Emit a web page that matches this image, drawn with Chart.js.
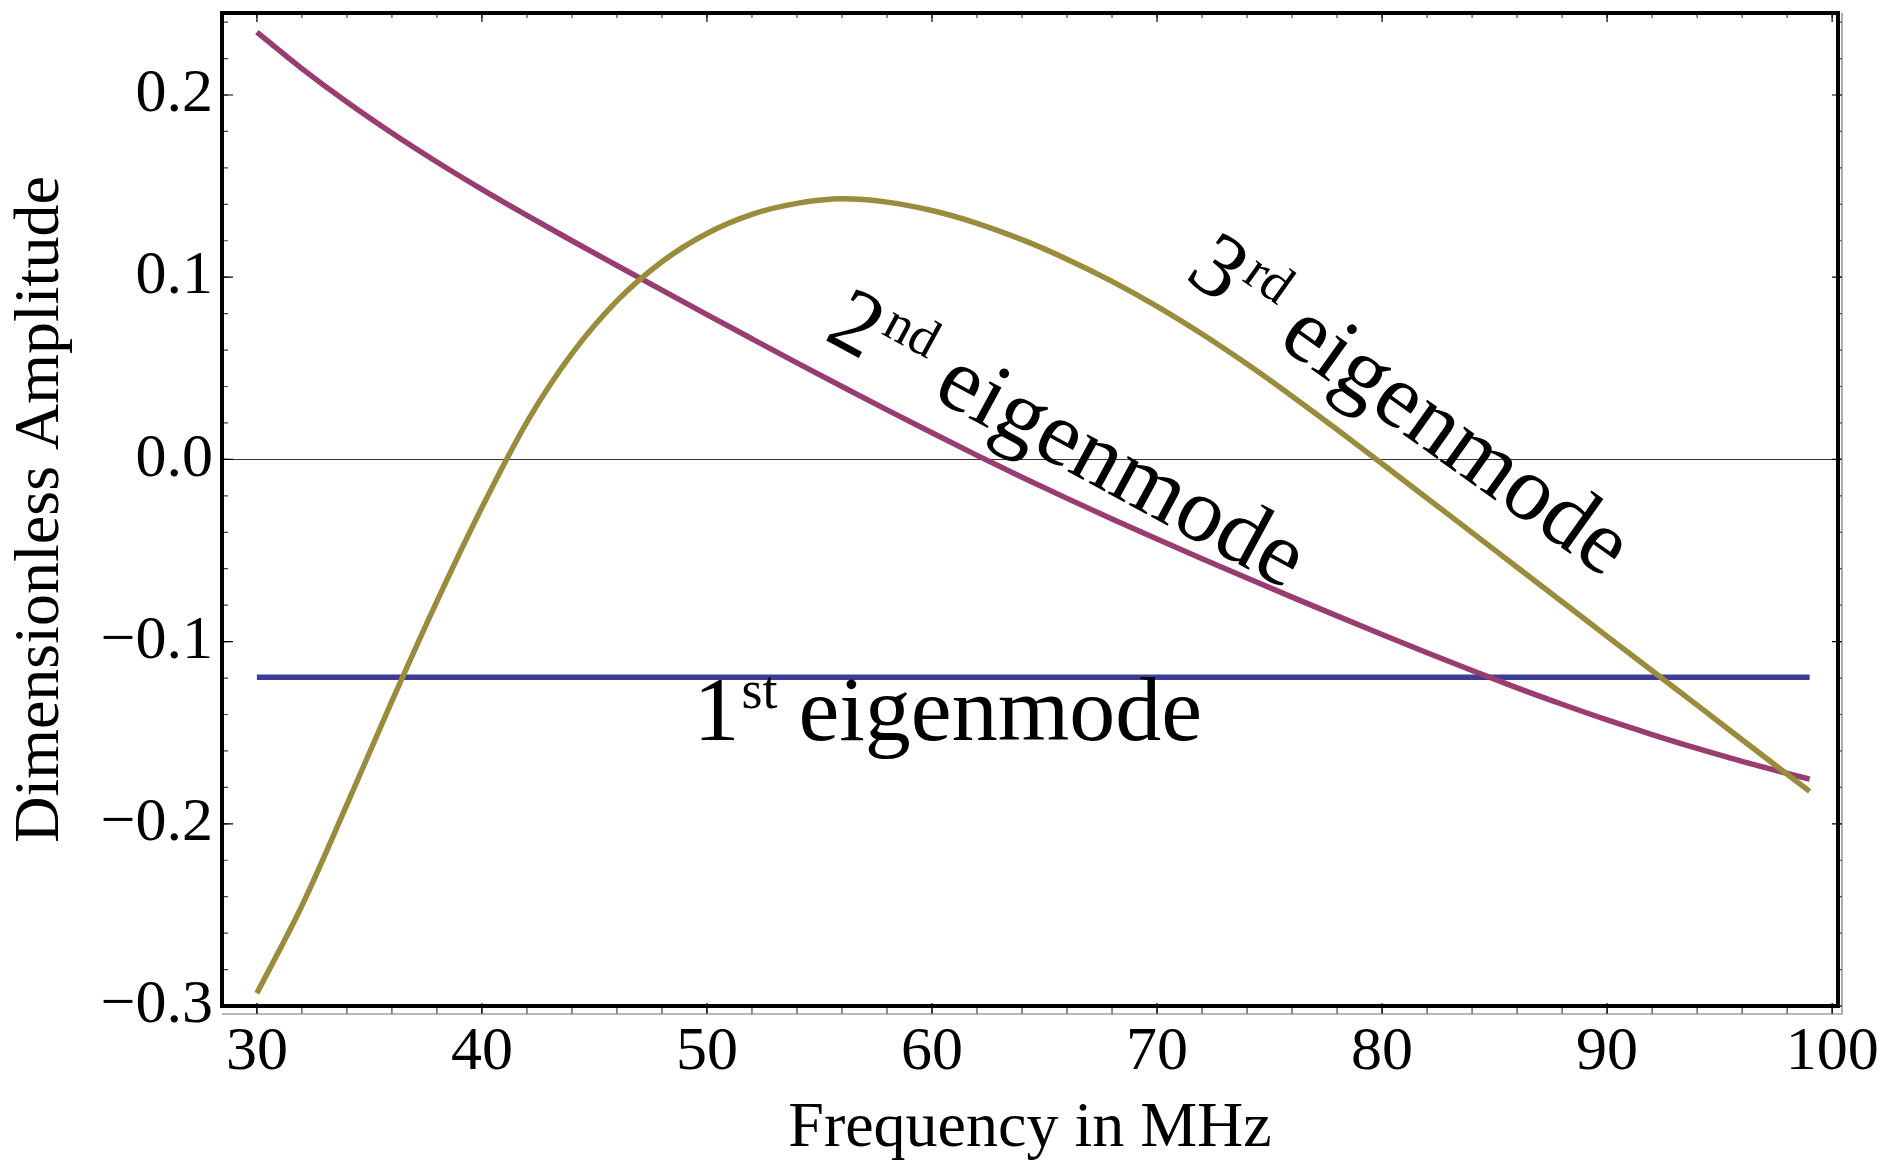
<!DOCTYPE html>
<html lang="en">
<head>
    <meta charset="UTF-8">
    <title>Eigenmode Amplitudes</title>
    <script src="https://cdn.jsdelivr.net/npm/chart.js"></script>
    <style>
        body {
            margin: 0;
            padding: 0;
            background-color: #ffffff;
        }

        .chart-box {
            width: 1885px;
            height: 1164px;
        }
    </style>
</head>
<body>
<div class="chart-box">
    <canvas id="modeChart" width="1885" height="1164"></canvas>
</div>

<script>
    const freq = [30, 32, 34, 36, 38, 40, 42, 44, 46, 48, 50, 52, 54, 56, 58, 60, 62, 64,
                  66, 68, 70, 72, 74, 76, 78, 80, 82, 84, 86, 88, 90, 92, 94, 96, 98, 99];

    // 1st eigenmode (flat)
    const mode1 = [-0.1195, -0.1195, -0.1195, -0.1195, -0.1195, -0.1195, -0.1195, -0.1195, -0.1195,
                   -0.1195, -0.1195, -0.1195, -0.1195, -0.1195, -0.1195, -0.1195, -0.1195, -0.1195,
                   -0.1195, -0.1195, -0.1195, -0.1195, -0.1195, -0.1195, -0.1195, -0.1195, -0.1195,
                   -0.1195, -0.1195, -0.1195, -0.1195, -0.1195, -0.1195, -0.1195, -0.1195, -0.1195];

    // 2nd eigenmode
    const mode2 = [0.2345, 0.2145, 0.1961, 0.1791, 0.1632, 0.1482, 0.1339, 0.1200, 0.1064,
                   0.0929, 0.0795, 0.0662, 0.0530, 0.0400, 0.0272, 0.0146, 0.0022, -0.0098,
                   -0.0214, -0.0327, -0.0437, -0.0545, -0.0651, -0.0756, -0.0859, -0.0961, -0.1061,
                   -0.1159, -0.1254, -0.1344, -0.1430, -0.1510, -0.1586, -0.1657, -0.1723, -0.1755];

    // 3rd eigenmode
    const mode3 = [-0.2930, -0.2450, -0.1895, -0.1327, -0.0779, -0.0264, 0.0205, 0.0580, 0.0870,
                   0.1085, 0.1240, 0.1345, 0.1405, 0.1430, 0.1412, 0.1366, 0.1296, 0.1206,
                   0.1099, 0.0977, 0.0840, 0.0688, 0.0523, 0.0347, 0.0164, -0.0024, -0.0213,
                   -0.0402, -0.0592, -0.0781, -0.0971, -0.1160, -0.1349, -0.1539, -0.1728, -0.1822];

    const xTicks = [30, 40, 50, 60, 70, 80, 90, 100];
    const yTicks = [-0.3, -0.2, -0.1, 0, 0.1, 0.2];

    const serif = '"Liberation Serif", "DejaVu Serif", serif';

    // minor ticks every 2 MHz / 0.02
    const xMinor = [];
    for (let v = 30; v <= 100; v += 2) xMinor.push(v);
    const yMinor = [];
    for (let k = -15; k <= 12; k++) yMinor.push(k / 50);

    // curve labels with superscripts
    const curveLabels = [
        { parts: [['1', false], ['st', true], [' eigenmode', false]], x: 60.7, y: -0.1541, angle: 0, mid: false },
        { parts: [['2', false], ['nd', true], [' eigenmode', false]], x: 65.9, y: 0.008, angle: 28.5, mid: true },
        { parts: [['3', false], ['rd', true], [' eigenmode', false]], x: 81.1, y: 0.027, angle: 35.5, mid: true }
    ];

    const bigSize = 92;
    const supSize = 54;

    function points(vals) {
        return freq.map((f, i) => ({ x: f, y: vals[i] }));
    }

    // Mathematica-like frame with inward ticks
    const framePlugin = {
        id: 'frame',
        afterDraw(chart) {
            const { ctx, chartArea: a, scales: { x, y } } = chart;
            ctx.save();
            ctx.lineWidth = 1.2;

            // minor ticks
            ctx.strokeStyle = '#444';
            ctx.beginPath();
            xMinor.forEach(v => {
                const px = x.getPixelForValue(v);
                ctx.moveTo(px, a.top); ctx.lineTo(px, a.top + 5);
                ctx.moveTo(px, a.bottom); ctx.lineTo(px, a.bottom + 8);
            });
            yMinor.forEach(v => {
                const py = y.getPixelForValue(v);
                ctx.moveTo(a.left, py); ctx.lineTo(a.left + 6, py);
                ctx.moveTo(a.right, py); ctx.lineTo(a.right + 4, py);
            });
            ctx.stroke();

            // major ticks
            ctx.strokeStyle = '#000';
            ctx.beginPath();
            xTicks.forEach(v => {
                const px = x.getPixelForValue(v);
                ctx.moveTo(px, a.top); ctx.lineTo(px, a.top + 9);
                ctx.moveTo(px, a.bottom - 3); ctx.lineTo(px, a.bottom + 8);
            });
            yTicks.forEach(v => {
                const py = y.getPixelForValue(v);
                ctx.moveTo(a.left, py); ctx.lineTo(a.left + 11, py);
                ctx.moveTo(a.right - 6, py); ctx.lineTo(a.right + 4, py);
            });
            ctx.stroke();

            // thin outer edge on bottom and right
            ctx.strokeStyle = '#777';
            ctx.beginPath();
            ctx.moveTo(a.left, a.bottom + 8); ctx.lineTo(a.right + 4, a.bottom + 8);
            ctx.lineTo(a.right + 4, a.top);
            ctx.stroke();

            // main frame
            ctx.lineWidth = 4;
            ctx.strokeStyle = '#000';
            ctx.strokeRect(a.left, a.top, a.right - a.left, a.bottom - a.top);
            ctx.restore();
        }
    };

    const labelPlugin = {
        id: 'curveLabels',
        afterDatasetsDraw(chart) {
            const { ctx, scales: { x, y } } = chart;
            curveLabels.forEach(lab => {
                ctx.save();
                ctx.fillStyle = '#000';
                ctx.textBaseline = 'alphabetic';
                ctx.textAlign = 'left';
                const widths = lab.parts.map(([t, sup]) => {
                    ctx.font = (sup ? supSize : bigSize) + 'px ' + serif;
                    return ctx.measureText(t).width;
                });
                const total = widths.reduce((s, w) => s + w, 0);
                ctx.translate(x.getPixelForValue(lab.x), y.getPixelForValue(lab.y));
                ctx.rotate(lab.angle * Math.PI / 180);
                const base = lab.mid ? 22 : 0;
                let cx = -total / 2;
                lab.parts.forEach(([t, sup], i) => {
                    ctx.font = (sup ? supSize : bigSize) + 'px ' + serif;
                    ctx.fillText(t, cx + (sup ? 2 : 0), sup ? base - 32 : base);
                    cx += widths[i];
                });
                ctx.restore();
            });
        }
    };

    Chart.defaults.color = '#000';
    Chart.defaults.font.family = serif;

    new Chart(document.getElementById('modeChart'), {
        type: 'line',
        data: {
            datasets: [
                { label: '1st eigenmode', data: points(mode1), borderColor: '#3d3d99', borderWidth: 5.5, order: 3 },
                { label: '2nd eigenmode', data: points(mode2), borderColor: '#993d71', borderWidth: 5.5, order: 2 },
                { label: '3rd eigenmode', data: points(mode3), borderColor: '#998c3d', borderWidth: 5.5, order: 1 }
            ]
        },
        options: {
            responsive: false,
            animation: false,
            layout: { padding: { top: 13, right: 47, left: 0, bottom: 0 } },
            elements: {
                line: { borderWidth: 5.5, cubicInterpolationMode: 'monotone', fill: false },
                point: { radius: 0 }
            },
            plugins: {
                legend: { display: false },
                tooltip: { enabled: false }
            },
            scales: {
                x: {
                    type: 'linear',
                    min: 28.45,
                    max: 100.26,
                    afterBuildTicks: s => { s.ticks = xTicks.map(v => ({ value: v })); },
                    afterFit: s => { s.height = 158; s.paddingLeft = 0; s.paddingRight = 0; },
                    grid: { display: false, drawTicks: false },
                    border: { display: false },
                    ticks: {
                        autoSkip: false,
                        maxRotation: 0,
                        padding: 10,
                        font: { size: 62 },
                        callback: v => String(v)
                    },
                    title: {
                        display: true,
                        text: 'Frequency in MHz',
                        font: { size: 64, lineHeight: 1 },
                        padding: { top: 0, bottom: 3 }
                    }
                },
                y: {
                    min: -0.3,
                    max: 0.245,
                    afterBuildTicks: s => { s.ticks = yTicks.map(v => ({ value: v })); },
                    afterFit: s => { s.width = 222; s.paddingTop = 0; s.paddingBottom = 0; },
                    grid: {
                        drawTicks: false,
                        lineWidth: 1,
                        color: c => (c.tick && c.tick.value === 0) ? '#333' : 'rgba(0,0,0,0)'
                    },
                    border: { display: false },
                    ticks: {
                        autoSkip: false,
                        padding: 9,
                        font: { size: 62 },
                        callback: v => v === 0 ? '0.0' : (v < 0 ? '\u2212' : '') + Math.abs(v).toFixed(1)
                    },
                    title: {
                        display: true,
                        text: 'Dimensionless Amplitude',
                        font: { size: 64, lineHeight: 1 },
                        padding: { top: 9, bottom: 0 }
                    }
                }
            }
        },
        plugins: [framePlugin, labelPlugin]
    });
</script>
</body>
</html>
